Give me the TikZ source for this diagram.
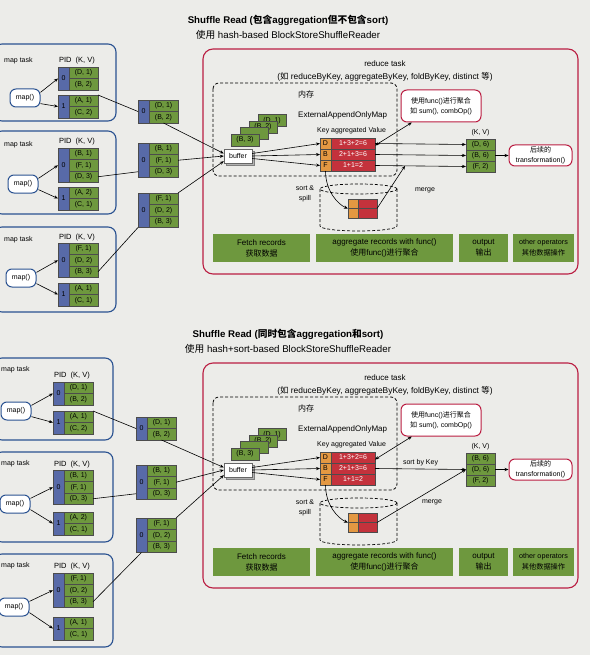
\documentclass[tikz,border=0pt]{standalone}
\usepackage{fontspec}
\setmainfont{Liberation Sans}
\newfontfamily\cjk{Noto Sans CJK SC}
\usetikzlibrary{positioning,calc,arrows.meta,shadows}

\definecolor{paper}{RGB}{236,236,233}
\definecolor{kvgreen}{RGB}{110,152,62}
\definecolor{pidblue}{RGB}{88,106,168}
\definecolor{valred}{RGB}{196,50,60}
\definecolor{keyorange}{RGB}{228,152,66}
\definecolor{taskred}{RGB}{186,30,66}
\definecolor{taskblue}{RGB}{42,82,145}

\tikzset{
  kv/.style={draw=black!70, fill=kvgreen, minimum width=29pt, minimum height=11.5pt, inner sep=0pt, outer sep=0pt, font=\fontsize{7}{8}\selectfont},
  pid/.style={draw=black!70, fill=pidblue, minimum width=11pt, inner sep=0pt, outer sep=0pt, font=\fontsize{7}{8}\selectfont},
  keycell/.style={draw=black!70, fill=keyorange, minimum width=11pt, minimum height=11pt, inner sep=0pt, outer sep=0pt, font=\fontsize{7}{8}\selectfont},
  valcell/.style={draw=black!70, fill=valred, text=white, minimum width=44pt, minimum height=11pt, inner sep=0pt, outer sep=0pt, font=\fontsize{7}{8}\selectfont},
  stackcell/.style={kv, minimum width=28pt, minimum height=12pt},
  taskbox/.style={draw=taskblue, line width=1.1pt, rounded corners=8pt},
  reducebox/.style={draw=taskred, line width=1.1pt, rounded corners=10pt},
  mapfn/.style={draw=taskblue, line width=1pt, fill=white, rounded corners=6pt, minimum width=30pt, minimum height=18pt, inner sep=0pt, font=\fontsize{7}{8}\selectfont},
  redbox/.style={draw=taskred, line width=1pt, fill=white, rounded corners=6pt, align=center, inner sep=0pt, font=\fontsize{7}{10}\selectfont},
  phase/.style={fill=kvgreen, minimum height=28pt, inner sep=0pt, align=center, font=\fontsize{8}{11}\selectfont},
  bufbox/.style={draw=black!60, fill=white, minimum width=28pt, minimum height=14pt, inner sep=0pt, font=\fontsize{7}{8}\selectfont,
    copy shadow={shadow xshift=2pt, shadow yshift=-2pt, fill=black!30, draw=black!50}},
  lbl/.style={inner sep=0pt, font=\fontsize{7}{8}\selectfont},
  title/.style={inner sep=0pt, font=\fontsize{9.7}{11}\selectfont},
  disk/.style={densely dashed, line width=0.7pt},
  >={Stealth[length=4pt,width=3.2pt]}
}

\begin{document}
\begin{tikzpicture}[x=1pt,y=-1pt]
  \useasboundingbox (0,0) rectangle (590,655);
  \clip (0,0) rectangle (590,655);
  \fill[paper] (0,0) rectangle (590,655);

  % ---------------- upper panel: hash-based ----------------
  \node[title] (atitle1) at (288,20) {\bfseries Shuffle Read ({\cjk 包含}aggregation{\cjk 但不包含}sort)};
  \node[title] (atitle2) at (288,35) {{\cjk 使用} hash-based BlockStoreShuffleReader};

  % map tasks
  \draw[taskbox] (-6,44) rectangle (116,121);
  \node[lbl, anchor=west] (at1) at (4,61) {map task};
  \node[lbl, font=\fontsize{7.5}{9}\selectfont] (apid1) at (77,61) {PID\ \ (K, V)};
  \node[kv, anchor=north west] (a10a) at (69,67) {(D, 1)};
  \node[kv, below=0pt of a10a] (a10b) {(B, 2)};
  \node[pid, minimum height=23pt, anchor=north east] (a10) at (a10a.north west) {0};
  \node[kv, anchor=north west] (a11a) at (69,95) {(A, 1)};
  \node[kv, below=0pt of a11a] (a11b) {(C, 2)};
  \node[pid, minimum height=23pt, anchor=north east] (a11) at (a11a.north west) {1};
  \node[mapfn] (af1) at (25,98) {map()};

  \draw[taskbox] (-6,131) rectangle (116,214);
  \node[lbl, anchor=west] (at2) at (4,145) {map task};
  \node[lbl, font=\fontsize{7.5}{9}\selectfont] (apid2) at (77,142) {PID\ \ (K, V)};
  \node[kv, anchor=north west] (a20a) at (69,148) {(B, 1)};
  \node[kv, below=0pt of a20a] (a20b) {(F, 1)};
  \node[kv, below=0pt of a20b] (a20c) {(D, 3)};
  \node[pid, minimum height=34.5pt, anchor=north east] (a20) at (a20a.north west) {0};
  \node[kv, anchor=north west] (a21a) at (69,187) {(A, 2)};
  \node[kv, below=0pt of a21a] (a21b) {(C, 1)};
  \node[pid, minimum height=23pt, anchor=north east] (a21) at (a21a.north west) {1};
  \node[mapfn] (af2) at (23,184) {map()};

  \draw[taskbox] (-6,227) rectangle (116,312);
  \node[lbl, anchor=west] (at3) at (4,240) {map task};
  \node[lbl, font=\fontsize{7.5}{9}\selectfont] (apid3) at (77,238) {PID\ \ (K, V)};
  \node[kv, anchor=north west] (a30a) at (69,243) {(F, 1)};
  \node[kv, below=0pt of a30a] (a30b) {(D, 2)};
  \node[kv, below=0pt of a30b] (a30c) {(B, 3)};
  \node[pid, minimum height=34.5pt, anchor=north east] (a30) at (a30a.north west) {0};
  \node[kv, anchor=north west] (a31a) at (69,283) {(A, 1)};
  \node[kv, below=0pt of a31a] (a31b) {(C, 1)};
  \node[pid, minimum height=23pt, anchor=north east] (a31) at (a31a.north west) {1};
  \node[mapfn] (af3) at (21,278) {map()};

  % fetched blocks
  \node[kv, anchor=north west] (am1a) at (149,100) {(D, 1)};
  \node[kv, below=0pt of am1a] (am1b) {(B, 2)};
  \node[pid, minimum height=23pt, anchor=north east] (am1) at (am1a.north west) {0};
  \node[kv, anchor=north west] (am2a) at (149,143) {(B, 1)};
  \node[kv, below=0pt of am2a] (am2b) {(F, 1)};
  \node[kv, below=0pt of am2b] (am2c) {(D, 3)};
  \node[pid, minimum height=34.5pt, anchor=north east] (am2) at (am2a.north west) {0};
  \node[kv, anchor=north west] (am3a) at (149,193) {(F, 1)};
  \node[kv, below=0pt of am3a] (am3b) {(D, 2)};
  \node[kv, below=0pt of am3b] (am3c) {(B, 3)};
  \node[pid, minimum height=34.5pt, anchor=north east] (am3) at (am3a.north west) {0};

  % reduce task
  \draw[reducebox] (203,49) rectangle (578,274);
  \node[lbl, font=\fontsize{8}{9}\selectfont] (ared) at (385,64) {reduce task};
  \node[lbl, font=\fontsize{8.4}{9}\selectfont] (aops) at (385,77) {({\cjk 如} reduceByKey, aggregateByKey, foldByKey, distinct {\cjk 等})};
  \draw[densely dashed, line width=0.8pt, rounded corners=6pt] (213,83) rectangle (397,176);
  \node[lbl, anchor=west, font=\fontsize{8}{9}\cjk] (amem) at (298,94) {内存};
  \node[lbl, anchor=west, font=\fontsize{8}{9}\selectfont] (amap) at (298,115) {ExternalAppendOnlyMap};
  \node[lbl, anchor=west] (akey) at (317,131) {Key aggregated Value};

  \node[stackcell] (as4) at (272,120.5) {(D, 1)};
  \node[stackcell] (as3) at (263,127) {(B, 2)};
  \node[stackcell] (as2) at (254,133.5) {};
  \node[stackcell] (as1) at (245,140) {(B, 3)};
  \node[bufbox] (abuf) at (238,156) {buffer};

  \node[keycell, anchor=north west] (aD) at (320,138) {D};
  \node[valcell, right=0pt of aD] (aDv) {1+3+2=6};
  \node[keycell, below=0pt of aD] (aB) {B};
  \node[valcell, right=0pt of aB] (aBv) {2+1+3=6};
  \node[keycell, below=0pt of aB] (aF) {F};
  \node[valcell, right=0pt of aF] (aFv) {1+1=2};

  \node[redbox, minimum width=80pt, minimum height=32pt] (afn) at (441,106) {{\cjk 使用}func(){\cjk 进行聚合}\\{\cjk 如} sum(), combOp()};
  \node[kv, minimum height=11pt, anchor=north west] (ao1) at (466,139) {(D, 6)};
  \node[kv, minimum height=11pt, below=0pt of ao1] (ao2) {(B, 6)};
  \node[kv, minimum height=11pt, below=0pt of ao2] (ao3) {(F, 2)};
  \node[lbl, above=3pt of ao1] (akv) {(K, V)};
  \node[redbox, minimum width=63pt, minimum height=21pt] (atr) at (540.5,155.5) {{\cjk 后续的}\\transformation()};

  \draw[disk] (358.5,189) ellipse [x radius=38.5pt, y radius=5pt];
  \draw[disk] (320,189) -- (320,226) arc[start angle=180, end angle=360, x radius=38.5pt, y radius=5pt] -- (397,189);
  \node[keycell, minimum width=10pt, minimum height=9.5pt, anchor=north west] (ad1) at (348,199) {};
  \node[valcell, minimum width=19pt, minimum height=9.5pt, right=0pt of ad1] (ad1v) {};
  \node[keycell, minimum width=10pt, minimum height=9.5pt, below=0pt of ad1] (ad2) {};
  \node[valcell, minimum width=19pt, minimum height=9.5pt, right=0pt of ad2] (ad2v) {};
  \node[lbl, align=center, font=\fontsize{7}{10}\selectfont] (aspill) at (305,194) {sort \&\\spill};
  \node[lbl] (amerge) at (425,190) {merge};

  \node[phase, minimum width=97pt] (afetch) at (261.5,248) {Fetch records\\{\cjk 获取数据}};
  \node[phase, minimum width=137pt] (aagg) at (384.5,248) {aggregate records with func()\\{\cjk 使用}func(){\cjk 进行聚合}};
  \node[phase, minimum width=49pt] (aout) at (483.5,248) {output\\{\cjk 输出}};
  \node[phase, minimum width=61pt, font=\fontsize{7.2}{11}\selectfont] (aother) at (543.5,248) {other operators\\{\cjk 其他数据操作}};

  \begin{scope}[line width=0.6pt]
    \draw[->] (af1.20) -- (a10.west);
    \draw[->] (af1.-20) -- (a11.west);
    \draw[->] (af2.20) -- (a20.west);
    \draw[->] (af2.-20) -- (a21.west);
    \draw[->] (af3.20) -- (a30.west);
    \draw[->] (af3.-20) -- (a31.west);
    \draw (a11a.north east) -- (am1.west);
    \draw (a20c.east) -- (am2c.west -| am2.west);
    \draw (a30c.east) -- (am3.south west);
    \draw[->] (am1b.south) -- (abuf.170);
    \draw[->] (am2b.east) -- (abuf.west);
    \draw[->] (am3a.north east) -- (abuf.200);
    \draw[->] (abuf.10) -- (aD.west);
    \draw[->] (abuf.east) -- (aB.west);
    \draw[->] (abuf.350) -- (aF.west);
    \draw[<->] ([yshift=-2pt]aDv.east) -- ($(afn.south west)!0.14!(afn.south east)$);
    \draw[->] (aDv.east) -- (ao1.west);
    \draw[->] (aBv.east) -- (ao2.west);
    \draw[->] (aFv.east) -- (ao3.west);
    \draw[->] (ao2.east) -- (atr.west);
    \draw[->] (aF.south) .. controls +(0,20) and +(-10,-4) .. (ad1.south west);
    \draw[->] (ad1v.south east) -- ($(aFv.east)!0.33!(ao3.west)$);
  \end{scope}

  % ---------------- lower panel: hash+sort-based ----------------
  \node[title] (btitle1) at (288,334) {\bfseries Shuffle Read ({\cjk 同时包含}aggregation{\cjk 和}sort)};
  \node[title] (btitle2) at (288,349) {{\cjk 使用} hash+sort-based BlockStoreShuffleReader};

  % map tasks
  \draw[taskbox] (-6,358) rectangle (113,440);
  \node[lbl, anchor=west] (bt1) at (1,370) {map task};
  \node[lbl, font=\fontsize{7.5}{9}\selectfont] (bpid1) at (72,376) {PID\ \ (K, V)};
  \node[kv, anchor=north west] (b10a) at (64,382) {(D, 1)};
  \node[kv, below=0pt of b10a] (b10b) {(B, 2)};
  \node[pid, minimum height=23pt, anchor=north east] (b10) at (b10a.north west) {0};
  \node[kv, anchor=north west] (b11a) at (64,411) {(A, 1)};
  \node[kv, below=0pt of b11a] (b11b) {(C, 2)};
  \node[pid, minimum height=23pt, anchor=north east] (b11) at (b11a.north west) {1};
  \node[mapfn] (bf1) at (16,411) {map()};

  \draw[taskbox] (-6,452) rectangle (113,542);
  \node[lbl, anchor=west] (bt2) at (1,464) {map task};
  \node[lbl, font=\fontsize{7.5}{9}\selectfont] (bpid2) at (72,465) {PID\ \ (K, V)};
  \node[kv, anchor=north west] (b20a) at (64,470) {(B, 1)};
  \node[kv, below=0pt of b20a] (b20b) {(F, 1)};
  \node[kv, below=0pt of b20b] (b20c) {(D, 3)};
  \node[pid, minimum height=34.5pt, anchor=north east] (b20) at (b20a.north west) {0};
  \node[kv, anchor=north west] (b21a) at (64,512) {(A, 2)};
  \node[kv, below=0pt of b21a] (b21b) {(C, 1)};
  \node[pid, minimum height=23pt, anchor=north east] (b21) at (b21a.north west) {1};
  \node[mapfn] (bf2) at (15,504) {map()};

  \draw[taskbox] (-6,554) rectangle (113,647);
  \node[lbl, anchor=west] (bt3) at (1,566) {map task};
  \node[lbl, font=\fontsize{7.5}{9}\selectfont] (bpid3) at (72,567) {PID\ \ (K, V)};
  \node[kv, anchor=north west] (b30a) at (64,573) {(F, 1)};
  \node[kv, below=0pt of b30a] (b30b) {(D, 2)};
  \node[kv, below=0pt of b30b] (b30c) {(B, 3)};
  \node[pid, minimum height=34.5pt, anchor=north east] (b30) at (b30a.north west) {0};
  \node[kv, anchor=north west] (b31a) at (64,617) {(A, 1)};
  \node[kv, below=0pt of b31a] (b31b) {(C, 1)};
  \node[pid, minimum height=23pt, anchor=north east] (b31) at (b31a.north west) {1};
  \node[mapfn] (bf3) at (14,607) {map()};

  % fetched blocks
  \node[kv, anchor=north west] (bm1a) at (147,417) {(D, 1)};
  \node[kv, below=0pt of bm1a] (bm1b) {(B, 2)};
  \node[pid, minimum height=23pt, anchor=north east] (bm1) at (bm1a.north west) {0};
  \node[kv, anchor=north west] (bm2a) at (147,465) {(B, 1)};
  \node[kv, below=0pt of bm2a] (bm2b) {(F, 1)};
  \node[kv, below=0pt of bm2b] (bm2c) {(D, 3)};
  \node[pid, minimum height=34.5pt, anchor=north east] (bm2) at (bm2a.north west) {0};
  \node[kv, anchor=north west] (bm3a) at (147,518) {(F, 1)};
  \node[kv, below=0pt of bm3a] (bm3b) {(D, 2)};
  \node[kv, below=0pt of bm3b] (bm3c) {(B, 3)};
  \node[pid, minimum height=34.5pt, anchor=north east] (bm3) at (bm3a.north west) {0};

  % reduce task
  \draw[reducebox] (203,363) rectangle (578,588);
  \node[lbl, font=\fontsize{8}{9}\selectfont] (bred) at (385,378) {reduce task};
  \node[lbl, font=\fontsize{8.4}{9}\selectfont] (bops) at (385,391) {({\cjk 如} reduceByKey, aggregateByKey, foldByKey, distinct {\cjk 等})};
  \draw[densely dashed, line width=0.8pt, rounded corners=6pt] (213,397) rectangle (397,490);
  \node[lbl, anchor=west, font=\fontsize{8}{9}\cjk] (bmem) at (298,408) {内存};
  \node[lbl, anchor=west, font=\fontsize{8}{9}\selectfont] (bmap) at (298,429) {ExternalAppendOnlyMap};
  \node[lbl, anchor=west] (bkey) at (317,445) {Key aggregated Value};

  \node[stackcell] (bs4) at (272,434.5) {(D, 1)};
  \node[stackcell] (bs3) at (263,441) {(B, 2)};
  \node[stackcell] (bs2) at (254,447.5) {};
  \node[stackcell] (bs1) at (245,454) {(B, 3)};
  \node[bufbox] (bbuf) at (238,470) {buffer};

  \node[keycell, anchor=north west] (bD) at (320,452) {D};
  \node[valcell, right=0pt of bD] (bDv) {1+3+2=6};
  \node[keycell, below=0pt of bD] (bB) {B};
  \node[valcell, right=0pt of bB] (bBv) {2+1+3=6};
  \node[keycell, below=0pt of bB] (bF) {F};
  \node[valcell, right=0pt of bF] (bFv) {1+1=2};

  \node[redbox, minimum width=80pt, minimum height=32pt] (bfn) at (441,420) {{\cjk 使用}func(){\cjk 进行聚合}\\{\cjk 如} sum(), combOp()};
  \node[kv, minimum height=11pt, anchor=north west] (bo1) at (466,453) {(B, 6)};
  \node[kv, minimum height=11pt, below=0pt of bo1] (bo2) {(D, 6)};
  \node[kv, minimum height=11pt, below=0pt of bo2] (bo3) {(F, 2)};
  \node[lbl, above=3pt of bo1] (bkv) {(K, V)};
  \node[redbox, minimum width=63pt, minimum height=21pt] (btr) at (540.5,469.5) {{\cjk 后续的}\\transformation()};

  \draw[disk] (358.5,503) ellipse [x radius=38.5pt, y radius=5pt];
  \draw[disk] (320,503) -- (320,540) arc[start angle=180, end angle=360, x radius=38.5pt, y radius=5pt] -- (397,503);
  \node[keycell, minimum width=10pt, minimum height=9.5pt, anchor=north west] (bd1) at (348,513) {};
  \node[valcell, minimum width=19pt, minimum height=9.5pt, right=0pt of bd1] (bd1v) {};
  \node[keycell, minimum width=10pt, minimum height=9.5pt, below=0pt of bd1] (bd2) {};
  \node[valcell, minimum width=19pt, minimum height=9.5pt, right=0pt of bd2] (bd2v) {};
  \node[lbl, align=center, font=\fontsize{7}{10}\selectfont] (bspill) at (305,508) {sort \&\\spill};
  \node[lbl] (bmerge) at (432,502) {merge};

  \node[phase, minimum width=97pt] (bfetch) at (261.5,562) {Fetch records\\{\cjk 获取数据}};
  \node[phase, minimum width=137pt] (bagg) at (384.5,562) {aggregate records with func()\\{\cjk 使用}func(){\cjk 进行聚合}};
  \node[phase, minimum width=49pt] (bout) at (483.5,562) {output\\{\cjk 输出}};
  \node[phase, minimum width=61pt, font=\fontsize{7.2}{11}\selectfont] (bother) at (543.5,562) {other operators\\{\cjk 其他数据操作}};

  \begin{scope}[line width=0.6pt]
    \draw[->] (bf1.20) -- (b10.west);
    \draw[->] (bf1.-20) -- (b11.west);
    \draw[->] (bf2.20) -- (b20.west);
    \draw[->] (bf2.-20) -- (b21.west);
    \draw[->] (bf3.20) -- (b30.west);
    \draw[->] (bf3.-20) -- (b31.west);
    \draw (b11a.north east) -- (bm1.west);
    \draw (b20c.east) -- (bm2c.west -| bm2.west);
    \draw (b30c.east) -- (bm3.south);
    \draw[->] (bm1b.south) -- (bbuf.170);
    \draw[->] (bm2b.east) -- (bbuf.west);
    \draw[->] (bm3a.north east) -- (bbuf.200);
    \draw[->] (bbuf.10) -- (bD.west);
    \draw[->] (bbuf.east) -- (bB.west);
    \draw[->] (bbuf.350) -- (bF.west);
    \draw[<->] ([yshift=-2pt]bDv.east) -- ($(bfn.south west)!0.14!(bfn.south east)$);
    \draw[->] (bBv.east) -- node[lbl, above=3pt] {sort by Key} (bo2.west);
    \draw[->] (bo2.east) -- (btr.west);
    \draw[->] (bF.south) .. controls +(0,20) and +(-10,-4) .. (bd1.south west);
    \draw[->] (bd1v.south east) -- (bo2.west);
  \end{scope}
\end{tikzpicture}
\end{document}
